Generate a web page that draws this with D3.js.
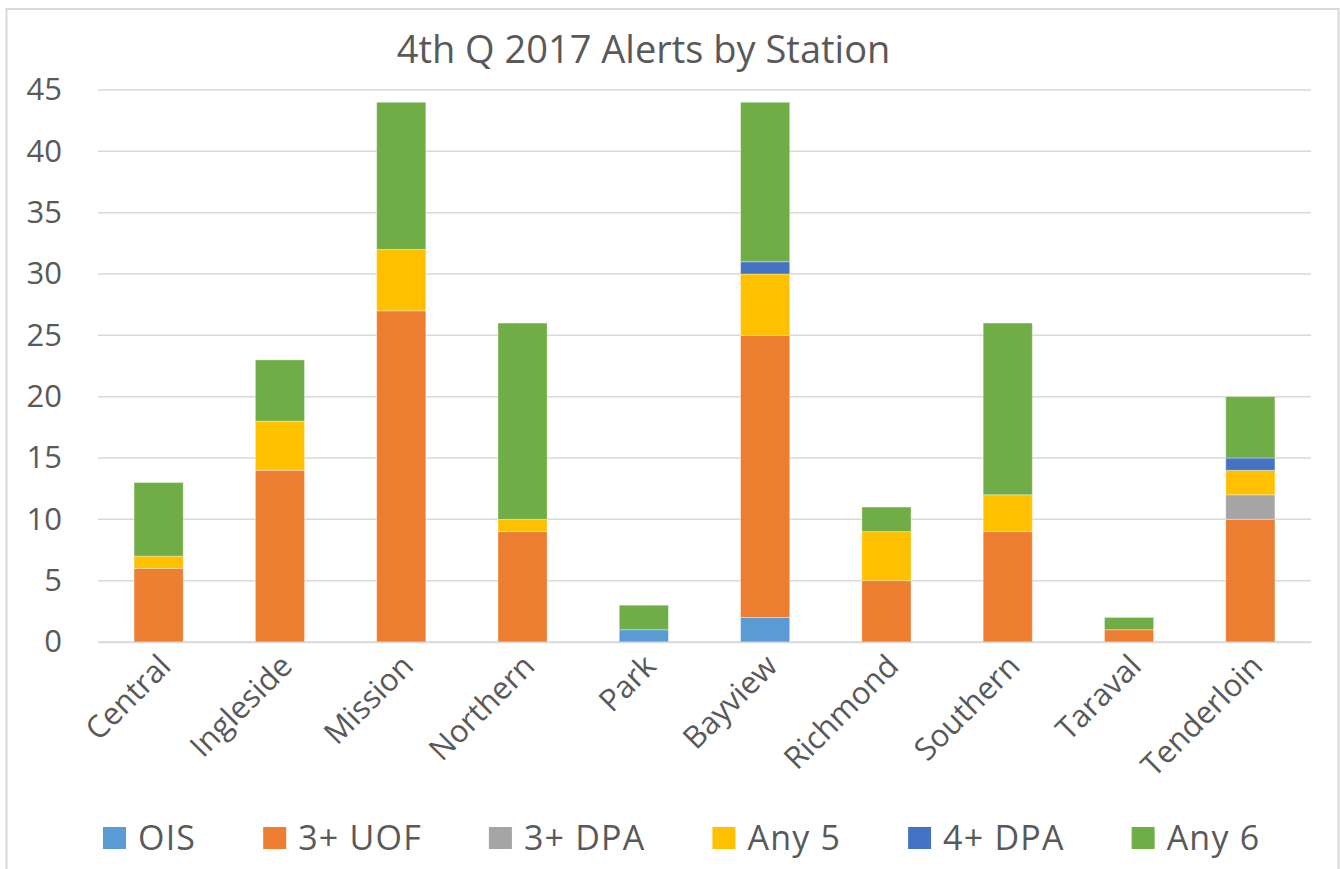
<!DOCTYPE html>
<html>
<head>
<meta charset="utf-8">
<script src="https://cdn.jsdelivr.net/npm/d3@7"></script>
<style>
  body { margin: 0; background: #fff; }
  svg { font-family: "Open Sans", sans-serif; }
</style>
</head>
<body>
<div id="chart"></div>
<script>
const stations = ["Central", "Ingleside", "Mission", "Northern", "Park", "Bayview", "Richmond", "Southern", "Taraval", "Tenderloin"];
const seriesNames = ["OIS", "3+ UOF", "3+ DPA", "Any 5", "4+ DPA", "Any 6"];
const ois  = [0, 0, 0, 0, 1, 2, 0, 0, 0, 0];
const uof  = [6, 14, 27, 9, 0, 23, 5, 9, 1, 10];
const dpa3 = [0, 0, 0, 0, 0, 0, 0, 0, 0, 2];
const any5 = [1, 4, 5, 1, 0, 5, 4, 3, 0, 2];
const dpa4 = [0, 0, 0, 0, 0, 1, 0, 0, 0, 1];
const any6 = [6, 5, 12, 16, 2, 13, 2, 14, 1, 5];
const yTicks = [0, 5, 10, 15, 20, 25, 30, 35, 40, 45];
const colors = ["#5B9BD5", "#ED7D31", "#A5A5A5", "#FFC000", "#4472C4", "#70AD47"];

const seriesValues = [ois, uof, dpa3, any5, dpa4, any6];
const rows = stations.map((s, i) => {
  const r = { station: s };
  seriesNames.forEach((n, k) => { r[n] = seriesValues[k][i]; });
  return r;
});

const W = 1340, H = 869;
const margin = { top: 90, right: 29, bottom: 227, left: 98 };
const width = W - margin.left - margin.right;
const height = H - margin.top - margin.bottom;

const svg = d3.select("#chart").append("svg")
  .attr("width", W)
  .attr("height", H);

// chart frame
svg.append("rect")
  .attr("x", 6.5).attr("y", 9)
  .attr("width", 1332).attr("height", 880)
  .attr("fill", "none")
  .attr("stroke", "#d9d9d9")
  .attr("stroke-width", 2);

svg.append("text")
  .attr("x", 643.5).attr("y", 63)
  .attr("text-anchor", "middle")
  .attr("font-size", 38)
  .attr("fill", "#595959")
  .text("4th Q 2017 Alerts by Station");

const g = svg.append("g").attr("transform", `translate(${margin.left},${margin.top})`);

const x = d3.scaleBand().domain(stations).range([0, width]).padding(0);
const y = d3.scaleLinear().domain([0, 45]).range([height, 0]);
const barW = x.bandwidth() * 0.405;

// gridlines
g.append("g")
  .selectAll("line")
  .data(yTicks)
  .join("line")
  .attr("x1", 0).attr("x2", width)
  .attr("y1", d => y(d)).attr("y2", d => y(d))
  .attr("stroke", "#d9d9d9")
  .attr("stroke-width", 1.5);

// y axis labels
const yAxis = g.append("g")
  .attr("transform", "translate(-36,0)")
  .call(d3.axisLeft(y).tickValues(yTicks).tickSize(0).tickPadding(0));
yAxis.select(".domain").remove();
yAxis.selectAll("text")
  .attr("font-size", 31)
  .attr("font-family", "Open Sans, sans-serif")
  .attr("fill", "#595959");

const stack = d3.stack().keys(seriesNames);
const stacked = stack(rows);

g.selectAll(".series")
  .data(stacked)
  .join("g")
  .attr("fill", (d, i) => colors[i])
  .selectAll("rect")
  .data(d => d.filter(p => p[1] > p[0]))
  .join("rect")
  .attr("x", d => x(d.data.station) + (x.bandwidth() - barW) / 2)
  .attr("y", d => y(d[1]))
  .attr("width", barW)
  .attr("height", d => y(d[0]) - y(d[1]))
  .attr("stroke", "rgba(255,255,255,0.35)")
  .attr("stroke-width", 1);

// x axis
const xAxis = g.append("g")
  .attr("transform", `translate(0,${height})`)
  .call(d3.axisBottom(x).tickSize(0).tickPadding(0));
xAxis.select(".domain")
  .attr("stroke", "#d9d9d9")
  .attr("stroke-width", 1.5);
xAxis.selectAll("text")
  .attr("font-size", 31)
  .attr("font-family", "Open Sans, sans-serif")
  .attr("fill", "#595959")
  .attr("text-anchor", "end")
  .attr("dx", 0)
  .attr("dy", 0)
  .attr("transform", "translate(14,26) rotate(-45)");

// legend
const legend = svg.append("g").attr("transform", "translate(0,838)");
let lx = 103;
seriesNames.forEach((name, i) => {
  const item = legend.append("g").attr("transform", `translate(${lx},0)`);
  item.append("rect")
    .attr("x", 0).attr("y", -11)
    .attr("width", 23).attr("height", 22)
    .attr("fill", colors[i]);
  const t = item.append("text")
    .attr("x", 35).attr("y", 12)
    .attr("font-size", 34)
    .attr("letter-spacing", 1.2)
    .attr("fill", "#595959")
    .text(name);
  lx += 35 + t.node().getComputedTextLength() + 67;
});
</script>
</body>
</html>
